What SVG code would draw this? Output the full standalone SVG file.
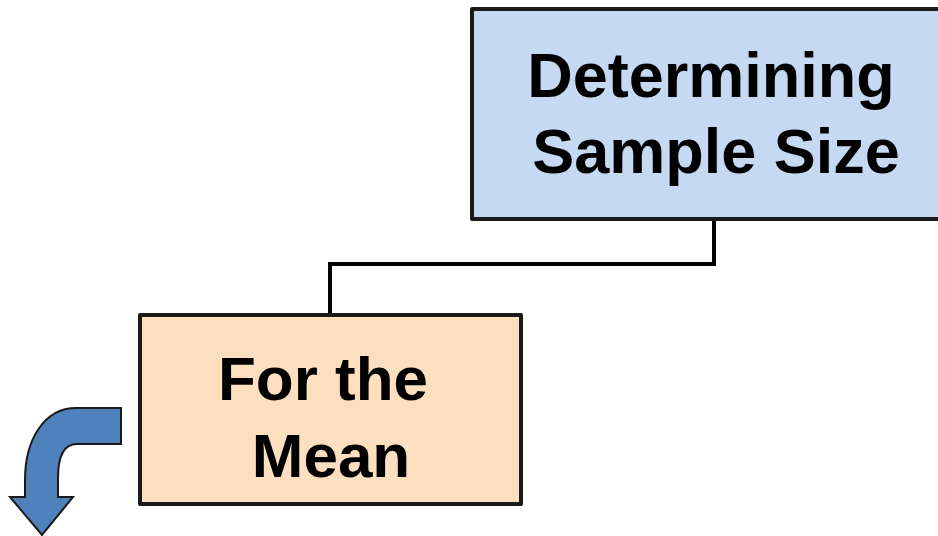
<svg xmlns="http://www.w3.org/2000/svg" width="938" height="536" viewBox="0 0 938 536">
  <style>
    .box { stroke: #1a1a1a; stroke-width: 4; stroke-linejoin: round; }
    .label { font-family: "Liberation Sans", Arial, sans-serif; font-weight: bold; fill: #000; text-anchor: middle; }
    .link { fill: none; stroke: #000; stroke-width: 4; }
  </style>
  <rect width="938" height="536" fill="#fff"/>
  <g id="connectors">
    <polyline class="link" points="714,219 714,264 330,264 330,314"/>
  </g>
  <g id="node-sample-size">
    <rect class="box" x="472" y="9" width="480" height="210" fill="#C6D9F2"/>
    <text class="label" font-size="63" x="711" y="97">Determining</text>
    <text class="label" font-size="63" x="716" y="173">Sample Size</text>
  </g>
  <g id="node-mean">
    <rect class="box" x="140" y="315" width="381" height="189" fill="#FCDFBF"/>
    <text class="label" font-size="62" x="323" y="400">For the</text>
    <text class="label" font-size="62" x="331" y="477">Mean</text>
  </g>
  <g id="bent-arrow">
    <path d="M121,408 L76,408 C44,408 25,440 25,480 L25,497 L10,497 L42,535 L73,497 L58,497 L58,478 C58,457 64,444 77,444 L121,444 Z" fill="#4F81BD" stroke="#1a1a1a" stroke-width="2" stroke-linejoin="miter"/>
  </g>
</svg>
